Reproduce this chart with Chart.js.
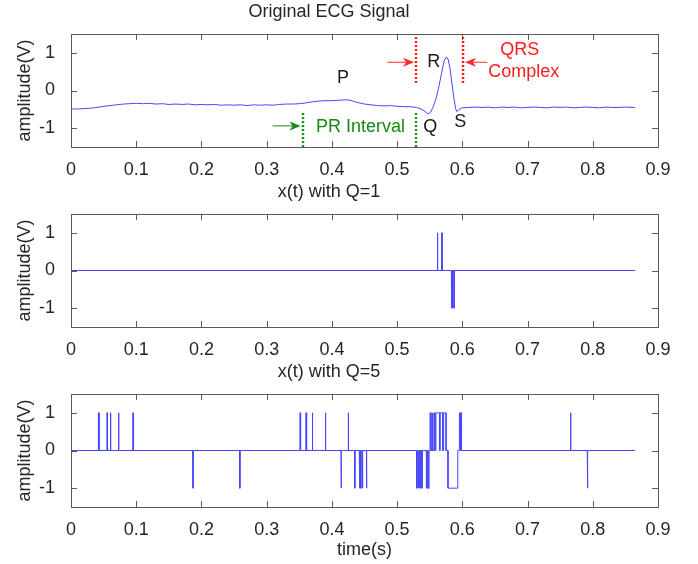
<!DOCTYPE html>
<html>
<head>
<meta charset="utf-8">
<script src="https://cdn.jsdelivr.net/npm/chart.js@4.4.1/dist/chart.umd.min.js"></script>
<style>
    html, body { margin: 0; padding: 0; background: #fff; }
    #wrap { position: relative; width: 698px; height: 564px; }
    canvas { position: absolute; left: 0; }
</style>
</head>
<body>
<div id="wrap">
    <canvas id="ecgChart" width="698" height="180" style="top:0"></canvas>
    <canvas id="q1Chart" width="698" height="180" style="top:180px"></canvas>
    <canvas id="q5Chart" width="698" height="204" style="top:360px"></canvas>
</div>
<script>
// axes
const xTickValues = [0, 0.1, 0.2, 0.3, 0.4, 0.5, 0.6, 0.7, 0.8, 0.9];
const xTickLabels = ['0', '0.1', '0.2', '0.3', '0.4', '0.5', '0.6', '0.7', '0.8', '0.9'];
const yTickValues = [-1, 0, 1];
const yTickLabels = ['-1', '0', '1'];
const signalEnd = 0.865;

// original ECG (time in s, amplitude in V)
const ecgTime = [0, 0.01, 0.02, 0.03, 0.04, 0.05, 0.06, 0.07, 0.08, 0.09, 0.1, 0.11, 0.12, 0.13, 0.14, 0.15, 0.16, 0.17, 0.18, 0.19,
    0.2, 0.21, 0.22, 0.23, 0.24, 0.25, 0.26, 0.27, 0.28, 0.29, 0.3, 0.31, 0.32, 0.33, 0.34, 0.35, 0.36, 0.37, 0.38, 0.39,
    0.4, 0.41, 0.42, 0.425, 0.43, 0.44, 0.45, 0.46, 0.47, 0.48, 0.49, 0.5, 0.51, 0.52, 0.53, 0.538, 0.543, 0.547, 0.551, 0.555,
    0.56, 0.564, 0.568, 0.572, 0.575, 0.578, 0.581, 0.584, 0.587, 0.59, 0.592, 0.595, 0.6, 0.61, 0.62, 0.63, 0.64, 0.65, 0.66,
    0.67, 0.68, 0.69, 0.7, 0.71, 0.72, 0.73, 0.74, 0.75, 0.76, 0.77, 0.78, 0.79, 0.8, 0.81, 0.82, 0.83, 0.84, 0.85, 0.865];
const ecgAmp = [-0.49, -0.49, -0.48, -0.47, -0.45, -0.42, -0.4, -0.38, -0.36, -0.35, -0.34, -0.35, -0.34, -0.36, -0.35, -0.37, -0.36, -0.37, -0.36, -0.38,
    -0.37, -0.38, -0.37, -0.39, -0.38, -0.39, -0.38, -0.4, -0.38, -0.39, -0.38, -0.39, -0.37, -0.36, -0.36, -0.35, -0.33, -0.3, -0.28, -0.27,
    -0.27, -0.26, -0.25, -0.25, -0.27, -0.32, -0.36, -0.38, -0.4, -0.41, -0.4, -0.42, -0.43, -0.43, -0.45, -0.5, -0.56, -0.62, -0.58, -0.45,
    -0.2, 0.1, 0.45, 0.78, 0.88, 0.84, 0.6, 0.2, -0.2, -0.5, -0.56, -0.5, -0.46, -0.45, -0.44, -0.45, -0.44, -0.46, -0.44,
    -0.45, -0.44, -0.46, -0.45, -0.44, -0.45, -0.46, -0.44, -0.45, -0.44, -0.46, -0.45, -0.44, -0.45, -0.46, -0.44, -0.45, -0.45, -0.44, -0.45];

// quantized x(t), Q=1: narrow pulses (start, end, level)
const q1Start = [0.5617, 0.5683, 0.5832, 0.5853, 0.5876];
const q1End = [0.5623, 0.5689, 0.5838, 0.5859, 0.5882];
const q1Level = [1, 1, -1, -1, -1];

// quantized x(t), Q=5
const q5Start = [0.042, 0.055, 0.06, 0.0725, 0.095, 0.187, 0.2585, 0.351, 0.36, 0.37, 0.39, 0.414, 0.425, 0.435, 0.442, 0.444, 0.4465, 0.453,
    0.53, 0.5325, 0.535, 0.538, 0.545, 0.5475, 0.5505, 0.5535, 0.5565, 0.5595, 0.5662, 0.5712, 0.578, 0.5955, 0.5975, 0.7655, 0.7915];
const q5End = [0.043, 0.056, 0.0612, 0.0735, 0.0955, 0.1875, 0.2595, 0.352, 0.3612, 0.3705, 0.3905, 0.4145, 0.4255, 0.4355, 0.443, 0.445, 0.4475, 0.4535,
    0.531, 0.5335, 0.536, 0.5385, 0.5462, 0.549, 0.552, 0.555, 0.558, 0.565, 0.57, 0.575, 0.593, 0.5965, 0.5985, 0.7665, 0.7925];
const q5Level = [1, 1, 1, 1, 1, -1, -1, 1, 1, 1, 1, -1, 1, -1, -1, -1, -1, -1,
    -1, -1, -1, -1, -1, -1, 1, 1, 1, 1, 1, 1, -1, 1, 1, 1, -1];

const FONT = 'Liberation Sans, Arial, Helvetica, sans-serif';
const TEXT = '#262626';
const LINE = '#4646ff';

const pulsePoints = (starts, ends, levels) => {
    const pts = [{ x: 0, y: 0 }];
    starts.forEach((s, i) => {
        pts.push({ x: s, y: 0 }, { x: s, y: levels[i] }, { x: ends[i], y: levels[i] }, { x: ends[i], y: 0 });
    });
    pts.push({ x: signalEnd, y: 0 });
    return pts;
};

// matlab style box with inward ticks
const framePlugin = {
    id: 'frame',
    afterDraw(chart) {
        const { ctx, chartArea: a, scales: { x, y } } = chart;
        ctx.save();
        ctx.strokeStyle = '#5a5a5a';
        ctx.lineWidth = 1;
        ctx.strokeRect(Math.round(a.left) + 0.5, Math.round(a.top) + 0.5, Math.round(a.right - a.left), Math.round(a.bottom - a.top));
        ctx.beginPath();
        xTickValues.forEach((v) => {
            const px = Math.round(x.getPixelForValue(v)) + 0.5;
            ctx.moveTo(px, a.bottom); ctx.lineTo(px, a.bottom - 6);
            ctx.moveTo(px, a.top); ctx.lineTo(px, a.top + 6);
        });
        yTickValues.forEach((v) => {
            const py = Math.round(y.getPixelForValue(v)) + 0.5;
            ctx.moveTo(a.left, py); ctx.lineTo(a.left + 6, py);
            ctx.moveTo(a.right, py); ctx.lineTo(a.right - 6, py);
        });
        ctx.stroke();
        ctx.restore();
    }
};

function arrow(ctx, x1, x2, y, color) {
    const dir = Math.sign(x2 - x1);
    ctx.strokeStyle = color;
    ctx.fillStyle = color;
    ctx.lineWidth = 1;
    ctx.beginPath();
    ctx.moveTo(x1, y); ctx.lineTo(x2 - dir * 8, y);
    ctx.stroke();
    ctx.beginPath();
    ctx.moveTo(x2, y);
    ctx.lineTo(x2 - dir * 11, y - 4.5);
    ctx.lineTo(x2 - dir * 8, y);
    ctx.lineTo(x2 - dir * 11, y + 4.5);
    ctx.closePath();
    ctx.fill();
}

// P, Q, R, S labels, QRS / PR markers on the first panel
const ecgNotes = {
    id: 'ecgNotes',
    afterDatasetsDraw(chart) {
        const { ctx, scales: { x, y } } = chart;
        const X = (v) => x.getPixelForValue(v);
        const Y = (v) => y.getPixelForValue(v);
        ctx.save();
        ctx.setLineDash([2, 2]);
        ctx.lineWidth = 2.5;
        ctx.strokeStyle = '#ff1a1a';
        [0.529, 0.601].forEach((t) => {
            ctx.beginPath(); ctx.moveTo(Math.round(X(t)), Y(1.42)); ctx.lineTo(Math.round(X(t)), Y(0.15)); ctx.stroke();
        });
        ctx.strokeStyle = '#138a13';
        [0.3556, 0.529].forEach((t) => {
            ctx.beginPath(); ctx.moveTo(Math.round(X(t)), Y(-0.6)); ctx.lineTo(Math.round(X(t)), Y(-1.5)); ctx.stroke();
        });
        ctx.setLineDash([]);
        arrow(ctx, X(0.485), X(0.526), Y(0.75), '#ff2a2a');
        arrow(ctx, X(0.638), X(0.604), Y(0.75), '#ff2a2a');
        arrow(ctx, X(0.309), X(0.352), Y(-0.94), '#138a13');

        ctx.font = `18px ${FONT}`;
        ctx.textAlign = 'center';
        ctx.textBaseline = 'middle';
        ctx.fillStyle = '#1a1a1a';
        ctx.fillText('P', X(0.417), Y(0.32));
        ctx.fillText('R', X(0.556), Y(0.76));
        ctx.fillText('Q', X(0.551), Y(-0.96));
        ctx.fillText('S', X(0.597), Y(-0.83));
        ctx.fillStyle = '#ff1a1a';
        ctx.fillText('QRS', X(0.688), Y(1.07));
        ctx.fillText('Complex', X(0.694), Y(0.5));
        ctx.fillStyle = '#138a13';
        ctx.fillText('PR Interval', X(0.444), Y(-0.96));
        ctx.restore();
    }
};

function panel(id, title, points, withTimeTitle, extraPlugins) {
    const xHeight = withTimeTitle ? 57 : 33;
    return new Chart(document.getElementById(id), {
        type: 'line',
        data: { datasets: [{ data: points, borderColor: LINE, borderWidth: 1, pointRadius: 0, tension: 0, fill: false }] },
        options: {
            responsive: false,
            animation: false,
            layout: { padding: { left: 0, right: 40, top: 0, bottom: 0 } },
            plugins: {
                legend: { display: false },
                tooltip: { enabled: false },
                title: { display: true, text: title, color: TEXT, font: { family: FONT, size: 18, weight: 'normal' }, padding: { top: 1, bottom: 11.4 } }
            },
            scales: {
                x: {
                    type: 'linear', min: 0, max: 0.9,
                    grid: { display: false }, border: { display: false },
                    afterBuildTicks: (s) => { s.ticks = xTickValues.map((value) => ({ value })); },
                    afterFit: (s) => { s.height = xHeight; },
                    ticks: { padding: 4, color: TEXT, font: { family: FONT, size: 18 }, maxRotation: 0, autoSkip: false, callback: (v, i) => xTickLabels[i] },
                    title: { display: withTimeTitle, text: 'time(s)', color: TEXT, font: { family: FONT, size: 18 }, padding: { top: 0, bottom: 3 } }
                },
                y: {
                    min: -1.5, max: 1.5,
                    grid: { display: false }, border: { display: false },
                    afterBuildTicks: (s) => { s.ticks = yTickValues.map((value) => ({ value })); },
                    afterFit: (s) => { s.width = 71; },
                    ticks: { padding: 8, color: TEXT, font: { family: FONT, size: 18 }, callback: (v, i) => yTickLabels[i] },
                    title: { display: true, text: 'amplitude(V)', color: TEXT, font: { family: FONT, size: 18 }, padding: { top: 14, bottom: 0 } }
                }
            }
        },
        plugins: [framePlugin, ...(extraPlugins || [])]
    });
}

const ecgPoints = ecgTime.map((t, i) => ({ x: t, y: ecgAmp[i] }));
panel('ecgChart', 'Original ECG Signal', ecgPoints, false, [ecgNotes]);
panel('q1Chart', 'x(t) with Q=1', pulsePoints(q1Start, q1End, q1Level), false);
panel('q5Chart', 'x(t) with Q=5', pulsePoints(q5Start, q5End, q5Level), true);
</script>
</body>
</html>
